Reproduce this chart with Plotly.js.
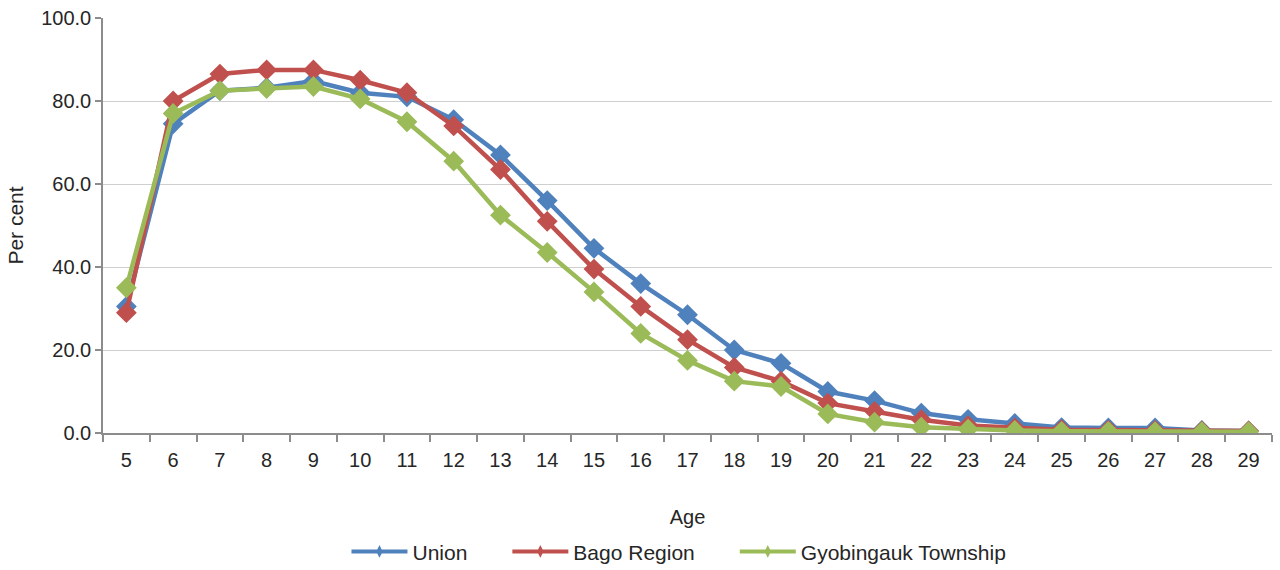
<!DOCTYPE html>
<html>
<head>
<meta charset="utf-8">
<script src="https://cdn.plot.ly/plotly-3.0.1.min.js"></script>
<style>
html,body{margin:0;padding:0;background:#fff;}
#chart{width:1280px;height:570px;}
</style>
</head>
<body>
<div id="chart"></div>
<script>
const ages = ['5','6','7','8','9','10','11','12','13','14','15','16','17','18','19','20','21','22','23','24','25','26','27','28','29'];
const union = [30.5,74.5,82.5,83.2,84.8,82.0,81.0,75.5,67.0,56.0,44.5,36.0,28.5,20.0,16.8,10.0,7.8,4.8,3.3,2.3,1.3,1.2,1.2,0.6,0.5];
const bago = [29.0,80.0,86.5,87.5,87.5,85.0,82.0,74.0,63.5,51.0,39.5,30.5,22.5,15.8,12.5,7.2,5.2,3.2,1.8,1.2,0.8,0.7,0.6,0.5,0.5];
const gyobingauk = [35.0,77.0,82.5,83.0,83.5,80.5,75.0,65.5,52.5,43.5,34.0,24.0,17.5,12.5,11.2,4.6,2.6,1.4,0.9,0.6,0.4,0.4,0.3,0.3,0.3];
const seriesNames = ['Union','Bago Region','Gyobingauk Township'];
const colors = ['#4f81bd','#c0504d','#9bbb59'];

const allSeries = [union, bago, gyobingauk];
const pad = '\u00a0\u00a0\u00a0\u00a0\u00a0\u00a0';
const traces = allSeries.map((vals, i) => ({
  x: ages,
  y: vals,
  name: seriesNames[i],
  showlegend: false,
  type: 'scatter',
  mode: 'lines+markers',
  line: {color: colors[i], width: 4.5},
  marker: {symbol: 'diamond', size: 16, color: colors[i]}
}));
// legend entries (smaller symbols, as in the reference legend)
seriesNames.forEach((n, i) => traces.push({
  x: [null], y: [null], name: n + (i < seriesNames.length - 1 ? pad : ''),
  type: 'scatter', mode: 'lines+markers', hoverinfo: 'skip',
  line: {color: colors[i], width: 4},
  marker: {symbol: 'diamond-tall', size: 9, color: colors[i]}
}));

const fam = '"Liberation Sans", Arial, sans-serif';
const txt = '#262626';

Plotly.newPlot('chart', traces, {
  width: 1280, height: 570,
  margin: {l: 103, r: 8, t: 18, b: 137},
  paper_bgcolor: '#fff', plot_bgcolor: '#fff',
  font: {family: fam, color: txt, size: 20},
  showlegend: true,
  legend: {orientation: 'h', xref: 'paper', x: 0.4927, xanchor: 'center',
           yref: 'container', y: 0.032, yanchor: 'middle',
           font: {family: fam, size: 21, color: txt}, itemwidth: 56, tracegroupgap: 0},
  xaxis: {
    type: 'category',
    range: [-0.5, 24.5], autorange: false,
    tickson: 'boundaries',
    ticks: 'outside', ticklen: 7, tickcolor: '#8c8c8c', tickwidth: 1.5,
    showline: true, linecolor: '#8c8c8c', linewidth: 1.5,
    showgrid: false, zeroline: false,
    ticklabelstandoff: 8,
    tickfont: {size: 20, color: txt},
    title: {text: 'Age', font: {size: 20, color: txt}, standoff: 40}
  },
  yaxis: {
    range: [0, 100], autorange: false, dtick: 20, tickformat: '.1f',
    ticks: 'outside', ticklen: 6, tickcolor: '#8c8c8c', tickwidth: 1.5,
    showline: true, linecolor: '#8c8c8c', linewidth: 1.5,
    gridcolor: '#cfcfcf', gridwidth: 1.3, zeroline: false,
    tickfont: {size: 20, color: txt},
    title: {text: 'Per cent', font: {size: 21, color: txt}, standoff: 12}
  }
}, {displayModeBar: false});
</script>
</body>
</html>
